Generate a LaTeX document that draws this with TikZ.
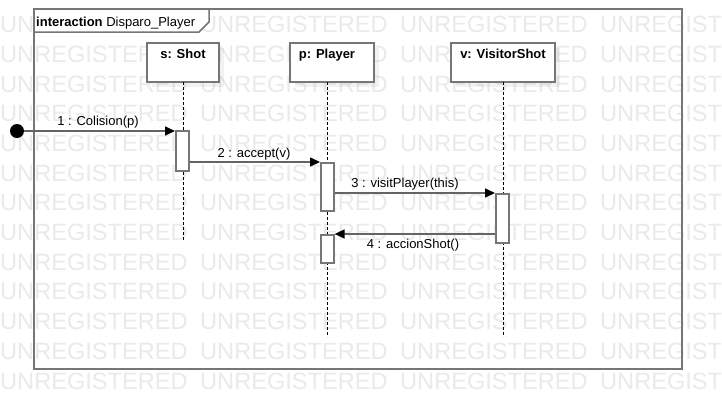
\documentclass[tikz,border=0pt]{standalone}
\usepackage{fontspec}
\setmainfont{Liberation Sans}
\usetikzlibrary{arrows.meta,shadows}

\definecolor{wmcol}{RGB}{234,234,234}
\definecolor{lncol}{RGB}{118,118,118}
\definecolor{msgcol}{RGB}{100,100,100}
\newcommand\labfont{\fontsize{13}{15}\selectfont}
\newcommand\wmfont{\fontsize{23.6}{26}\selectfont}

\begin{document}
\begin{tikzpicture}[x=1pt,y=-1pt,
  wmark/.style={text=wmcol, font=\wmfont, anchor=base west, inner sep=0pt},
  frameline/.style={draw=lncol, line width=1.5pt},
  headbox/.style={draw=lncol, line width=1.6pt, fill=white, anchor=north west,
    drop shadow={shadow xshift=5pt, shadow yshift=-5pt, fill=black, opacity=0.05}},
  headtext/.style={font=\labfont\bfseries, anchor=base, inner sep=0pt},
  actbox/.style={draw=lncol, line width=1.6pt, fill=white, anchor=north west, inner sep=0pt},
  lifeline/.style={draw=black, line width=0.8pt, dash pattern=on 3pt off 2pt},
  msg/.style={draw=msgcol, line width=1.6pt, -{Triangle[length=10pt,width=9pt,color=black]}},
  msglabel/.style={font=\labfont, anchor=base, inner sep=0pt}
]
\useasboundingbox (0,0) rectangle (722,410);
\fill[white] (0,0) rectangle (722,410);

% watermark
\foreach \r in {0,...,12}{
  \foreach \c in {0,...,3}{
    \node[wmark] (wm-\r-\c) at (200*\c, 32.6+29.7*\r) {UNREGISTERED};
  }
}

% frame
\draw[frameline] (34,9) rectangle (682,369);
\draw[frameline, fill=white] (34,9) -- (209,9) -- (209,22) -- (199,32) -- (34,32) -- cycle;
\node[font=\labfont, anchor=base west, inner sep=0pt] (ftitle) at (36,26) {\textbf{interaction} Disparo\_Player};

% lifeline heads
\node[headbox, minimum width=72pt, minimum height=39pt] (sbox) at (146,42) {};
\node[headbox, minimum width=84pt, minimum height=39pt] (pbox) at (289,42) {};
\node[headbox, minimum width=104pt, minimum height=39pt] (vbox) at (450,42) {};
\node[headtext] (stext) at (183,58) {s: Shot};
\node[headtext] (ptext) at (327,58) {p: Player};
\node[headtext] (vtext) at (503,58) {v: VisitorShot};

% lifelines
\coordinate (stop) at (183,82);
\coordinate (send) at (183,240);
\coordinate (ptop) at (327,82);
\coordinate (pend) at (327,337);
\coordinate (vtop) at (503,82);
\coordinate (vend) at (503,337);
\draw[lifeline] (stop) -- (send);
\draw[lifeline] (ptop) -- (pend);
\draw[lifeline] (vtop) -- (vend);

% activations
\node[actbox, minimum width=13pt, minimum height=40pt] (sact) at (175,130) {};
\node[actbox, minimum width=13pt, minimum height=48pt] (pact1) at (320,162) {};
\node[actbox, minimum width=13pt, minimum height=49pt] (vact) at (495,193) {};
\node[actbox, minimum width=13pt, minimum height=28pt] (pact2) at (320,234) {};

% initial dot
\node[circle, fill=black, inner sep=0pt, minimum size=14pt] (start) at (17,131) {};

% messages
\draw[msg] (start.east) -- (start -| sact.west);
\draw[msg] (sact.east |- pact1.north) -- (pact1.north west);
\draw[msg] (pact1.east |- vact.north) -- (vact.north west);
\draw[msg] (vact.west |- pact2.north) -- (pact2.north east);

% message labels
\node[msglabel] (m1) at (98,125) {1 : Colision(p)};
\node[msglabel] (m2) at (254,157) {2 : accept(v)};
\node[msglabel] (m3) at (405,187) {3 : visitPlayer(this)};
\node[msglabel] (m4) at (413,248) {4 : accionShot()};
\end{tikzpicture}
\end{document}
